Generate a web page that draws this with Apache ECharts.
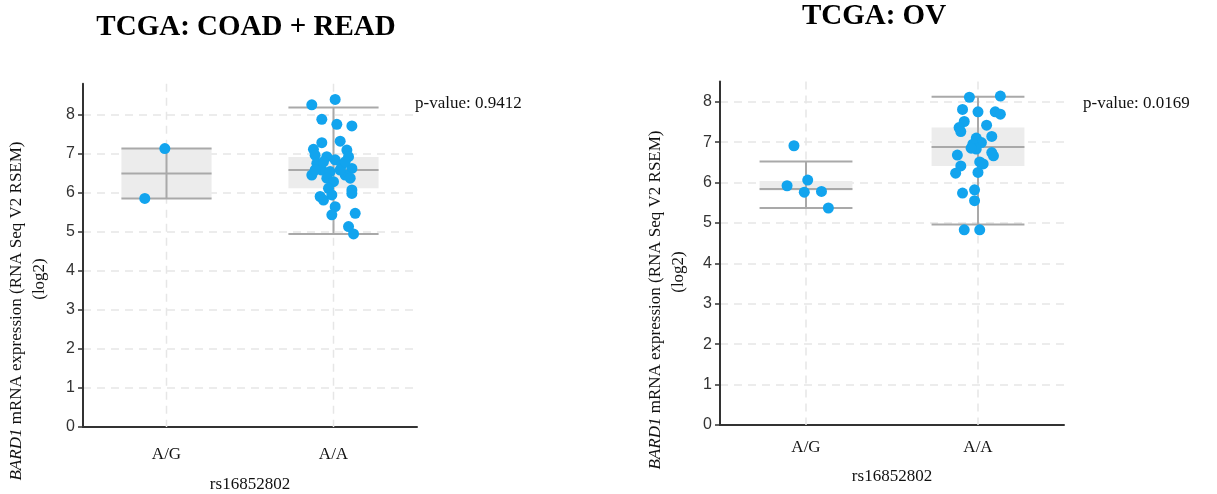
<!DOCTYPE html>
<html>
<head>
<meta charset="utf-8">
<title>BARD1 rs16852802</title>
<script src="https://cdn.jsdelivr.net/npm/echarts@6/dist/echarts.min.js"></script>
<style>
  html, body { margin: 0; padding: 0; background: #fff; }
  #main { width: 1217px; height: 494px; }
</style>
</head>
<body>
<div id="main"></div>
<script>
// genotype groups
var categories = ['A/G', 'A/A'];
var yTicks = [0, 1, 2, 3, 4, 5, 6, 7, 8];
var yMaxes = [8.8, 8.5];

// box stats: [low, q1, median, q3, high]
var coadBoxAG = [5.86, 5.86, 6.50, 7.14, 7.14];
var coadBoxAA = [4.95, 6.12, 6.59, 6.92, 8.19];
var ovBoxAG = [5.37, 5.80, 5.84, 6.04, 6.52];
var ovBoxAA = [4.96, 6.41, 6.88, 7.36, 8.12];

// samples: [jitter offset (category units), log2 expression]
var coadPointsAG = [[-0.01, 7.14], [-0.13, 5.86]];
var coadPointsAA = [
  [-0.13, 8.26], [0.01, 8.40], [-0.07, 7.89], [0.02, 7.76], [0.11, 7.72],
  [-0.07, 7.29], [0.04, 7.33], [-0.12, 7.12], [-0.11, 6.97], [-0.04, 6.93],
  [0.08, 7.10], [0.09, 6.93], [0.01, 6.85], [-0.10, 6.76], [0.05, 6.72],
  [0.11, 6.63], [-0.07, 6.59], [-0.02, 6.55], [-0.13, 6.46], [0.07, 6.46],
  [-0.04, 6.38], [0.10, 6.38], [0.00, 6.29], [-0.03, 6.12], [0.11, 6.08],
  [-0.01, 5.95], [-0.08, 5.91], [-0.06, 5.82], [0.11, 5.99], [0.01, 5.65],
  [-0.01, 5.44], [0.13, 5.48], [0.09, 5.14], [0.12, 4.95], [-0.11, 6.59],
  [0.04, 6.59], [0.07, 6.80], [-0.06, 6.80]
];
var ovPointsAG = [[-0.07, 6.91], [-0.11, 5.92], [0.01, 6.06], [-0.01, 5.76], [0.09, 5.78], [0.13, 5.37]];
var ovPointsAA = [
  [-0.05, 8.11], [0.13, 8.14], [-0.09, 7.81], [0.00, 7.75], [0.10, 7.75],
  [0.13, 7.69], [-0.08, 7.51], [0.05, 7.42], [-0.11, 7.36], [-0.10, 7.26],
  [0.08, 7.14], [-0.01, 7.10], [0.02, 6.99], [-0.03, 6.95], [-0.01, 6.83],
  [-0.04, 6.85], [0.08, 6.74], [0.09, 6.66], [-0.12, 6.68], [0.01, 6.51],
  [0.03, 6.46], [-0.10, 6.41], [-0.13, 6.23], [0.00, 6.25], [-0.02, 5.82],
  [-0.09, 5.74], [-0.02, 5.55], [-0.08, 4.83], [0.01, 4.83]
];

var pValues = ['p-value: 0.9412', 'p-value: 0.0169'];
var titles = ['TCGA: COAD + READ', 'TCGA: OV'];
var xName = 'rs16852802';

var SERIF = '"Liberation Serif", "Times New Roman", serif';
var SANS = '"Liberation Sans", Arial, sans-serif';

function boxRows(ag, aa) {
  return [[0].concat(ag), [1].concat(aa)];
}
function pointRows(ag, aa) {
  var out = [];
  ag.forEach(function (p) { out.push([p[0], p[1]]); });
  aa.forEach(function (p) { out.push([1 + p[0], p[1]]); });
  return out;
}

function makeBoxRenderer(yMax) {
  return function (params, api) {
    var cat = api.value(0);
    var low = api.coord([cat, api.value(1)]);
    var q1 = api.coord([cat, api.value(2)]);
    var med = api.coord([cat, api.value(3)]);
    var q3 = api.coord([cat, api.value(4)]);
    var high = api.coord([cat, api.value(5)]);
    var top = api.coord([cat, yMax]);
    var bottom = api.coord([cat, 0]);
    var half = api.size([1, 0])[0] * 0.27;
    var x = low[0];
    var ln = { stroke: '#a9a9a9', lineWidth: 2 };
    function cap(p) {
      return { type: 'line', shape: { x1: x - half, y1: p[1], x2: x + half, y2: p[1] }, style: ln };
    }
    return {
      type: 'group',
      children: [
        // vertical dashed grid line at the category centre
        { type: 'line', shape: { x1: x, y1: top[1], x2: x, y2: bottom[1] },
          style: { stroke: '#e6e6e6', lineWidth: 1.5, lineDash: [8, 6] } },
        { type: 'rect', shape: { x: x - half, y: q3[1], width: half * 2, height: q1[1] - q3[1] },
          style: { fill: '#ececec' } },
        { type: 'line', shape: { x1: x, y1: high[1], x2: x, y2: low[1] }, style: ln },
        cap(low), cap(med), cap(high)
      ]
    };
  };
}

var chart = echarts.init(document.getElementById('main'));

var grids = [
  { left: 83, top: 83.8, width: 334, height: 343.2, outerBoundsMode: 'none', containLabel: false },
  { left: 720, top: 81.5, width: 344, height: 343.5, outerBoundsMode: 'none', containLabel: false }
];
var labelMargins = [19, 14];
var nameGaps = [49, 43];

var xAxes = [], yAxes = [], series = [];
[0, 1].forEach(function (g) {
  xAxes.push({
    type: 'category', gridIndex: g, data: categories,
    name: xName, nameLocation: 'middle', nameGap: nameGaps[g],
    nameTextStyle: { fontFamily: SERIF, fontSize: 17, color: '#111' },
    axisLine: { onZero: false, lineStyle: { color: '#333', width: 2 } },
    axisTick: { alignWithLabel: true, length: 7, lineStyle: { color: '#333', width: 2 } },
    axisLabel: { fontFamily: SERIF, fontSize: 17, color: '#111', margin: labelMargins[g] },
    splitLine: { show: false }
  });
  xAxes.push({
    type: 'value', gridIndex: g, min: -0.5, max: 1.5, show: false,
    splitLine: { show: false }
  });
  yAxes.push({
    type: 'value', gridIndex: g, min: 0, max: yMaxes[g], interval: 1,
    axisLine: { show: true, onZero: false, lineStyle: { color: '#333', width: 2 } },
    axisTick: { show: true, length: 5, lineStyle: { color: '#333', width: 1.5 } },
    axisLabel: { fontFamily: SANS, fontSize: 16, color: '#333', margin: 8, showMaxLabel: false,
      formatter: function (v) { return yTicks.indexOf(v) >= 0 ? String(v) : ''; } },
    splitLine: { show: true, showMaxLine: false, lineStyle: { color: '#e6e6e6', width: 1.5, type: [8, 6] } }
  });
});

var panels = [
  { box: boxRows(coadBoxAG, coadBoxAA), pts: pointRows(coadPointsAG, coadPointsAA) },
  { box: boxRows(ovBoxAG, ovBoxAA), pts: pointRows(ovPointsAG, ovPointsAA) }
];
panels.forEach(function (p, g) {
  series.push({
    type: 'custom', xAxisIndex: g * 2 + 1, yAxisIndex: g,
    renderItem: makeBoxRenderer(yMaxes[g]), data: p.box,
    encode: { x: 0, y: [1, 2, 3, 4, 5] }, silent: true, z: 1
  });
  series.push({
    type: 'scatter', xAxisIndex: g * 2 + 1, yAxisIndex: g,
    data: p.pts, symbolSize: 11, itemStyle: { color: '#12a4ee', opacity: 1 }, z: 3
  });
});

function yName(x, y, yLog) {
  return [
    { type: 'text', x: x, y: y, rotation: Math.PI / 2,
      style: { text: '{i|BARD1} mRNA expression (RNA Seq V2 RSEM)', fontFamily: SERIF, fontSize: 17,
        fill: '#111', align: 'center', verticalAlign: 'middle',
        rich: { i: { fontStyle: 'italic', fontFamily: SERIF, fontSize: 17, fill: '#111' } } } },
    { type: 'text', x: x + 23, y: yLog, rotation: Math.PI / 2,
      style: { text: '(log2)', fontFamily: SERIF, fontSize: 17, fill: '#111',
        align: 'center', verticalAlign: 'middle' } }
  ];
}

var graphics = []
  .concat(yName(17, 311, 279))
  .concat(yName(656, 300, 272))
  .concat([
    { type: 'text', x: 246, y: 28, style: { text: titles[0], fontFamily: SERIF, fontSize: 29,
      fontWeight: 'bold', fill: '#000', align: 'center', verticalAlign: 'middle' } },
    { type: 'text', x: 874, y: 17, style: { text: titles[1], fontFamily: SERIF, fontSize: 29,
      fontWeight: 'bold', fill: '#000', align: 'center', verticalAlign: 'middle' } },
    { type: 'text', x: 415, y: 104, style: { text: pValues[0], fontFamily: SERIF, fontSize: 17,
      fill: '#111', align: 'left', verticalAlign: 'middle' } },
    { type: 'text', x: 1083, y: 104, style: { text: pValues[1], fontFamily: SERIF, fontSize: 17,
      fill: '#111', align: 'left', verticalAlign: 'middle' } }
  ]);

chart.setOption({
  animation: false,
  backgroundColor: '#fff',
  grid: grids,
  xAxis: xAxes,
  yAxis: yAxes,
  series: series,
  graphic: graphics
});
</script>
</body>
</html>
